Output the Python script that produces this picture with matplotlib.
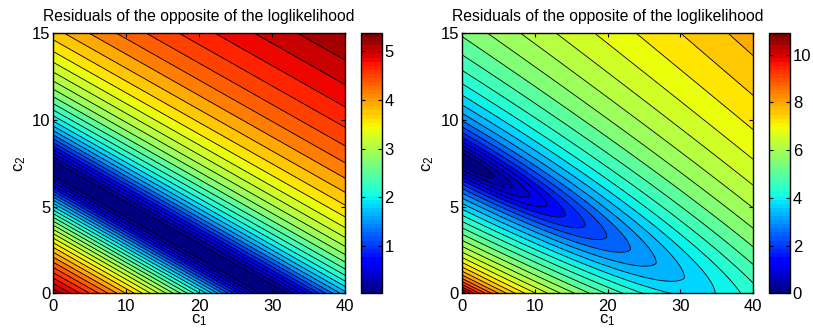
import numpy as np
import matplotlib
matplotlib.use("Agg")
import matplotlib.pyplot as plt
from matplotlib.colors import Normalize
from matplotlib.cm import ScalarMappable

plt.rcParams['font.family'] = ['Liberation Sans', 'DejaVu Sans']
plt.rcParams['mathtext.default'] = 'regular'

title = 'Residuals of the opposite of the loglikelihood'

# axis ranges and ticks
c1_lim = [0, 40]
c2_lim = [0, 15]
c1_ticks = [0, 10, 20, 30, 40]
c2_ticks = [0, 5, 10, 15]

# line of minimum residual: where it meets c2 = 0 (c1 value) and c1 = 0 (c2 value)
left_valley = [30.0, 7.15]
right_valley = [34.5, 7.7]

# shape:
# growth k, valley width w, scale along valley L, slope along c1 b,
# steep low side strength A and offset e
left_shape = [0.957, 4.5, np.inf, 0.0, 715.0, 100.0]
right_shape = [1.15, 3.0, 8.53, 0.02, 68.0, 10.0]
left_floor = 0.03
right_floor = 0.0

left_cticks = [1, 2, 3, 4, 5]
right_cticks = [0, 2, 4, 6, 8, 10]
n_levels = 30

cmap = plt.get_cmap('jet', 64)

c1 = np.linspace(c1_lim[0], c1_lim[1], 401)
c2 = np.linspace(c2_lim[0], c2_lim[1], 301)
C1, C2 = np.meshgrid(c1, c2)


def residual(valley, shape, floor):
    a = valley[0] / valley[1]
    s = C1 + a * C2
    d = s - valley[0]
    k, w, L, b, A, e = shape
    z = k * np.log(1 + (d / w) ** 2 + (C1 / L) ** 2) + b * C1
    low = A * (1 / (s + e) - 1 / (valley[0] + e))
    z = z + np.where(d < 0, low, 0)
    return z + floor


fig = plt.figure(figsize=(8.13, 3.36), dpi=100)

panels = [
    ([0.0656, 0.127, 0.3588, 0.774], [0.4437, 0.127, 0.0258, 0.774],
     residual(left_valley, left_shape, left_floor), left_cticks),
    ([0.5679, 0.127, 0.3587, 0.774], [0.9453, 0.127, 0.0264, 0.774],
     residual(right_valley, right_shape, right_floor), right_cticks),
]

for ax_rect, cb_rect, Z, cticks in panels:
    ax = fig.add_axes(ax_rect)
    cax = fig.add_axes(cb_rect)
    zmin, zmax = Z.min(), Z.max()
    levels = np.linspace(zmin, zmax, n_levels + 1)
    norm = Normalize(vmin=zmin, vmax=zmax)
    # matlab colours each band with its lower level
    fills = [cmap(norm(v)) for v in levels[:-1]]
    ax.contourf(C1, C2, Z, levels=levels, colors=fills)
    ax.contour(C1, C2, Z, levels=levels[1:-1], colors='k', linewidths=0.6)
    ax.set_xlim(c1_lim)
    ax.set_ylim(c2_lim)
    ax.set_xticks(c1_ticks)
    ax.set_yticks(c2_ticks)
    ax.tick_params(direction='in', top=True, right=True, length=3, labelsize=12)
    ax.tick_params(axis='x', pad=4)
    ax.tick_params(axis='y', pad=2)
    for sp in ax.spines.values():
        sp.set_linewidth(1.0)
    ax.set_title(title, fontsize=11.3, pad=9)
    ax.set_xlabel('c$_1$', fontsize=12, labelpad=-1)
    ax.set_ylabel('c$_2$', fontsize=12, labelpad=3)

    cb = fig.colorbar(ScalarMappable(norm=norm, cmap=cmap), cax=cax)
    cb.set_ticks([t for t in cticks if zmin <= t <= zmax])
    cax.set_ylim(zmin, zmax)
    cax.tick_params(direction='in', left=True, right=True, length=3, labelsize=12, pad=2)
    cb.outline.set_linewidth(1.0)

fig.savefig('out.png', dpi=100)
